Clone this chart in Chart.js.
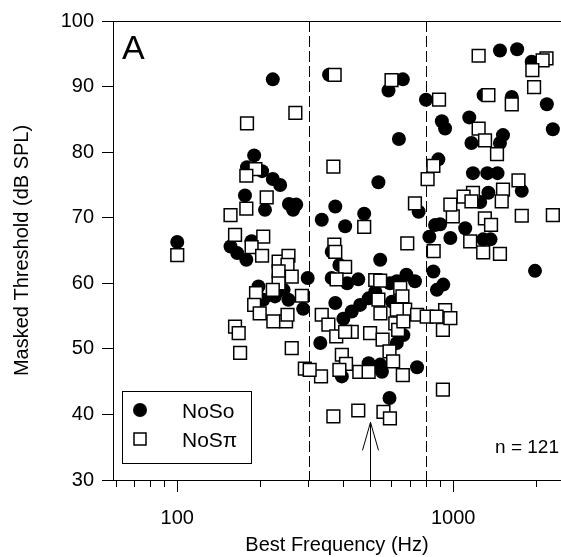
<!DOCTYPE html>
<html>
<head>
<meta charset="utf-8">
<script src="https://cdn.jsdelivr.net/npm/chart.js@4.4.1/dist/chart.umd.min.js"></script>
<style>
  html, body { margin: 0; padding: 0; background: #fff; overflow: hidden; }
  canvas { display: block; }
</style>
</head>
<body>
<canvas id="threshold_chart" width="561" height="557"></canvas>
<script>
// NoSo: filled circles (best frequency in Hz, masked threshold in dB SPL)
const noso_freq = [
    100, 222, 190, 179, 203, 222, 236, 176, 208, 254, 270, 263,
    156, 165, 178, 186, 197, 233, 243, 253, 226, 286, 297, 205,
    355, 657, 583, 797, 636, 536, 334, 374, 406, 476, 750, 363,
    544, 387, 363, 453, 677, 727, 625, 413, 374, 400, 429, 460,
    494, 522, 600, 643, 330, 660, 625, 494, 544, 552, 740, 395,
    588, 590, 820, 848, 873, 921, 860, 897, 884, 910, 935, 977,
    1106, 1285, 1366, 1980, 1144, 1165, 1516, 1478, 1180, 1330, 1448, 1773,
    1342, 1253, 1290, 1631, 2186, 2298, 1478, 1706, 1926
];
const noso_db = [
    66.3, 91.1, 79.5, 77.7, 77.1, 75.9, 75.0, 73.4, 71.2, 72.1, 72.0, 71.2,
    65.6, 64.6, 63.6, 66.4, 59.5, 61.3, 59.0, 57.5, 58.0, 56.1, 60.8, 57.5,
    91.8, 91.1, 89.4, 88.0, 82.0, 75.4, 69.7, 71.7, 68.7, 70.6, 70.9, 64.8,
    63.6, 62.8, 60.8, 60.6, 61.3, 60.3, 60.3, 60.0, 57.0, 54.6, 55.7, 56.7,
    57.7, 58.7, 57.2, 57.5, 50.9, 52.1, 50.9, 47.8, 47.6, 46.5, 47.2, 45.8,
    42.5, 60.0, 67.1, 61.8, 59.0, 59.8, 68.9, 69.0, 78.9, 84.7, 83.6, 66.9,
    68.4, 66.7, 66.7, 61.9, 85.3, 81.4, 82.6, 81.4, 76.8, 76.8, 76.8, 74.1,
    73.8, 72.4, 88.7, 88.4, 87.3, 83.5, 95.5, 95.7, 93.8
];

// NoSpi: open squares
const nospi_freq = [
    100, 268, 179, 192, 178, 211, 178, 156, 162, 205, 186, 203,
    233, 253, 251, 233, 260, 233, 222, 193, 283, 190, 199, 223,
    248, 251, 162, 167, 169, 260, 290, 372, 598, 368, 476, 682,
    371, 374, 406, 378, 522, 544, 643, 655, 670, 625, 740, 802,
    536, 545, 334, 353, 377, 429, 406, 500, 555, 617, 632, 660,
    588, 395, 409, 387, 332, 302, 606, 657, 457, 494, 368, 453,
    559, 590, 727, 808, 889, 848, 918, 935, 977, 871, 918, 850,
    997, 1237, 2180, 2110, 1937, 1965, 1342, 1631, 1237, 1305, 1442, 1725,
    1516, 1500, 1180, 1091, 1165, 977, 1303, 1372, 1773, 2298, 1153, 1285,
    1478
];
const nospi_db = [
    64.3, 86.0, 84.4, 77.4, 76.4, 73.1, 71.4, 70.4, 67.4, 67.1, 65.5, 64.2,
    63.3, 64.2, 62.8, 61.8, 61.0, 60.0, 59.0, 58.5, 58.1, 56.7, 55.4, 54.2,
    54.2, 55.2, 53.4, 52.4, 49.4, 50.1, 47.0, 91.8, 91.0, 77.8, 68.6, 66.1,
    65.9, 64.8, 62.5, 60.6, 60.5, 60.4, 59.3, 58.0, 56.0, 56.0, 55.2, 54.9,
    57.5, 55.4, 55.2, 53.7, 51.9, 52.6, 52.6, 52.4, 51.4, 53.9, 52.9, 54.2,
    49.6, 49.1, 47.7, 46.8, 45.8, 46.8, 48.1, 46.0, 46.5, 46.5, 39.7, 40.6,
    40.4, 39.4, 72.2, 75.9, 88.0, 77.9, 52.9, 55.9, 54.7, 54.9, 43.8, 64.9,
    70.2, 94.7, 94.3, 94.0, 92.5, 89.9, 88.7, 87.3, 83.6, 81.8, 79.7, 75.7,
    74.3, 72.5, 73.8, 73.2, 72.5, 72.0, 69.9, 68.9, 70.3, 70.4, 66.4, 64.7,
    64.5
];

const x_tick_values = [60, 70, 80, 90, 100, 200, 300, 400, 500, 600, 700, 800, 900, 1000, 2000];
const x_tick_labels = [100, 1000];
const region_edges = [300, 800];
const arrow_freq = 500;
const arrow_tip_db = 38.8;

const series_labels = ['NoSo', 'NoS\u03c0'];
const panel_label = 'A';
const count_label = 'n = 121';

Chart.defaults.font.family = '"Liberation Sans", Arial, Helvetica, sans-serif';
Chart.defaults.color = '#000';

function to_points(freqs, dbs) {
    return freqs.map((f, i) => ({ x: f, y: dbs[i] }));
}

const overlay = {
    id: 'overlay',
    beforeDatasetsDraw(chart) {
        const { ctx, chartArea } = chart;
        const x = chart.scales.x;
        const y = chart.scales.y;
        ctx.save();
        ctx.strokeStyle = '#000';
        ctx.lineWidth = 1;

        // top frame
        ctx.beginPath();
        ctx.moveTo(chartArea.left, chartArea.top + 0.5);
        ctx.lineTo(chartArea.right, chartArea.top + 0.5);
        ctx.stroke();

        // dashed region boundaries
        ctx.setLineDash([11, 4]);
        region_edges.forEach(f => {
            const px = Math.round(x.getPixelForValue(f)) + 0.5;
            ctx.beginPath();
            ctx.moveTo(px, chartArea.top);
            ctx.lineTo(px, chartArea.bottom);
            ctx.stroke();
        });
        ctx.setLineDash([]);

        // arrow
        const ax = Math.round(x.getPixelForValue(arrow_freq)) + 0.5;
        const tip = y.getPixelForValue(arrow_tip_db);
        ctx.beginPath();
        ctx.moveTo(ax, chartArea.bottom);
        ctx.lineTo(ax, tip);
        ctx.moveTo(ax - 8, tip + 28);
        ctx.lineTo(ax, tip);
        ctx.lineTo(ax + 8, tip + 28);
        ctx.stroke();
        ctx.restore();
    },
    afterDatasetsDraw(chart) {
        const { ctx, chartArea } = chart;
        ctx.save();
        ctx.fillStyle = '#000';
        ctx.strokeStyle = '#000';

        ctx.font = '34px "Liberation Sans", Arial, sans-serif';
        ctx.textAlign = 'left';
        ctx.textBaseline = 'alphabetic';
        ctx.fillText(panel_label, chartArea.left + 9, 59);

        ctx.font = '19px "Liberation Sans", Arial, sans-serif';
        ctx.textAlign = 'right';
        ctx.fillText(count_label, 559, 453);

        // legend box
        const bx = chartArea.left + 9, by = 391;
        ctx.lineWidth = 1;
        ctx.strokeRect(bx + 0.5, by + 0.5, 129, 72);

        ctx.beginPath();
        ctx.arc(bx + 18, 410, 7, 0, Math.PI * 2);
        ctx.fill();

        ctx.lineWidth = 1.5;
        ctx.fillStyle = '#fff';
        ctx.fillRect(bx + 12, 433, 12, 12);
        ctx.strokeRect(bx + 12, 433, 12, 12);

        ctx.fillStyle = '#000';
        ctx.font = '21px "Liberation Sans", Arial, sans-serif';
        ctx.textAlign = 'left';
        ctx.fillText(series_labels[0], bx + 60, 417.5);
        ctx.fillText(series_labels[1], bx + 60, 446.5);
        ctx.restore();
    }
};

const chart = new Chart(document.getElementById('threshold_chart'), {
    type: 'scatter',
    data: {
        datasets: [
            {
                label: series_labels[0],
                data: to_points(noso_freq, noso_db),
                pointStyle: 'circle',
                radius: 7,
                backgroundColor: '#000',
                borderColor: '#000',
                borderWidth: 0,
                order: 1
            },
            {
                label: series_labels[1],
                data: to_points(nospi_freq, nospi_db),
                pointStyle: 'rect',
                radius: 9,
                backgroundColor: '#fff',
                borderColor: '#000',
                borderWidth: 1.5,
                order: 0
            }
        ]
    },
    options: {
        responsive: false,
        animation: false,
        layout: {
            autoPadding: false,
            padding: { top: 21, right: 0, bottom: 0, left: 0 }
        },
        plugins: {
            legend: { display: false },
            tooltip: { enabled: false }
        },
        scales: {
            x: {
                type: 'logarithmic',
                position: 'bottom',
                min: 58.5,
                max: 2460,
                afterBuildTicks: scale => {
                    scale.ticks = x_tick_values.map(v => ({ value: v }));
                },
                afterFit: scale => { scale.height = 77; },
                border: { display: true, color: '#000', width: 1 },
                grid: {
                    drawOnChartArea: false,
                    tickLength: 12,
                    tickColor: '#000',
                    tickBorderDash: ctx => x_tick_labels.includes(ctx.tick.value) ? [] : [6, 40]
                },
                ticks: {
                    autoSkip: false,
                    maxRotation: 0,
                    padding: 14,
                    font: { size: 20 },
                    callback: value => x_tick_labels.includes(value) ? String(value) : ''
                },
                title: {
                    display: true,
                    text: 'Best Frequency (Hz)',
                    font: { size: 20 },
                    padding: { top: 0, bottom: 0 }
                }
            },
            y: {
                min: 30,
                max: 100,
                afterFit: scale => { scale.width = 113; },
                border: { display: true, color: '#000', width: 1 },
                grid: {
                    drawOnChartArea: false,
                    tickLength: 11,
                    tickColor: '#000'
                },
                ticks: {
                    stepSize: 10,
                    padding: 8,
                    font: { size: 20 }
                },
                title: {
                    display: true,
                    text: 'Masked Threshold (dB SPL)',
                    font: { size: 20 },
                    padding: { top: 10, bottom: 0 }
                }
            }
        }
    },
    plugins: [overlay]
});
</script>
</body>
</html>
